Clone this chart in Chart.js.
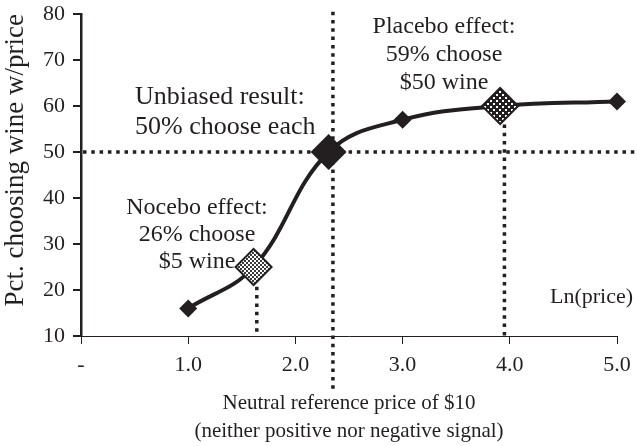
<!DOCTYPE html>
<html>
<head>
<meta charset="utf-8">
<script src="https://cdn.jsdelivr.net/npm/chart.js@4.4.1/dist/chart.umd.min.js"></script>
<style>
  html, body { margin: 0; padding: 0; background: #fff; }
  canvas { display: block; }
</style>
</head>
<body>
<canvas id="chart" width="637" height="446"></canvas>
<script>
// curve data: ln(price) vs pct choosing the wine
const xValues = [1.0, 1.61, 2.31, 3.0, 3.91, 5.0];
const yValues = [16, 25, 50, 57, 60, 61];

const xTickValues = [0, 1, 2, 3, 4, 5];
const xTickLabels = ['-', '1.0', '2.0', '3.0', '4.0', '5.0'];
const yTickLabels = ['10', '20', '30', '40', '50', '60', '70', '80'];

// dotted reference lines (data units)
const hLineY = 50;
const vLinesX = [1.64, 2.35, 3.95];
const vLinesTop = [20.7, 80.5, 56];

const SERIF = '"Liberation Serif", "Times New Roman", serif';
const INK = '#231f20';

function makePattern(bg, fg, size, dot, spots) {
    const c = document.createElement('canvas');
    c.width = size;
    c.height = size;
    const g = c.getContext('2d');
    g.fillStyle = bg;
    g.fillRect(0, 0, size, size);
    g.fillStyle = fg;
    spots.forEach(p => g.fillRect(p[0], p[1], dot, dot));
    return g.createPattern(c, 'repeat');
}

const noceboFill = makePattern('#ffffff', '#3a3a3a', 4, 2, [[0, 0], [2, 2]]);
const placeboFill = makePattern('#231f20', '#ffffff', 6, 2, [[1, 1], [4, 4]]);

// dotted lines under the markers
const refLinesPlugin = {
    id: 'refLines',
    beforeDatasetsDraw(chart) {
        const { ctx, chartArea, scales } = chart;
        ctx.save();
        ctx.strokeStyle = INK;
        ctx.lineWidth = 3.5;
        ctx.setLineDash([3.5, 4.8]);

        const y50 = scales.y.getPixelForValue(hLineY);
        ctx.beginPath();
        ctx.moveTo(chartArea.left + 2, y50);
        ctx.lineTo(chart.width, y50);
        ctx.stroke();

        vLinesX.forEach((xv, i) => {
            const px = scales.x.getPixelForValue(xv);
            const top = scales.y.getPixelForValue(vLinesTop[i]);
            // the middle line runs down into the axis title
            const bottom = i === 1 ? chartArea.bottom + 54 : chartArea.bottom;
            ctx.beginPath();
            ctx.moveTo(px, top);
            ctx.lineTo(px, bottom);
            ctx.stroke();
        });
        ctx.restore();
    }
};

// text notes on the plot
const notes = [
    { lines: ['Unbiased result:', '50% choose each'], x: 135, y: 97, gap: 30, size: 26, align: 'left' },
    { lines: ['Placebo effect:', '59% choose', '$50 wine'], x: 444, y: 27, gap: 28, size: 24, align: 'center' },
    { lines: ['Nocebo effect:', '26% choose', '$5 wine'], x: 197, y: 208, gap: 27, size: 24, align: 'center' },
    { lines: ['Ln(price)'], x: 633, y: 297, gap: 0, size: 22, align: 'right' }
];

const notesPlugin = {
    id: 'notes',
    afterDraw(chart) {
        const ctx = chart.ctx;
        ctx.save();
        ctx.fillStyle = INK;
        ctx.textBaseline = 'middle';
        notes.forEach(n => {
            ctx.font = n.size + 'px ' + SERIF;
            ctx.textAlign = n.align;
            n.lines.forEach((t, i) => ctx.fillText(t, n.x, n.y + i * n.gap));
        });
        ctx.restore();
    }
};

const ctx = document.getElementById('chart').getContext('2d');

new Chart(ctx, {
    type: 'scatter',
    data: {
        datasets: [{
            data: xValues.map((x, i) => ({ x: x, y: yValues[i] })),
            showLine: true,
            clip: false,
            borderColor: INK,
            borderWidth: 4,
            tension: 0.4,
            pointStyle: 'rectRot',
            pointRadius: [9, 18, 18, 9, 18, 9],
            pointBackgroundColor: [INK, noceboFill, INK, INK, placeboFill, INK],
            pointBorderColor: INK,
            pointBorderWidth: [0, 2, 0, 0, 2, 0]
        }]
    },
    options: {
        responsive: false,
        animation: false,
        layout: { autoPadding: false, padding: { top: 14, right: 20, left: 0, bottom: 0 } },
        plugins: {
            legend: { display: false },
            tooltip: { enabled: false }
        },
        scales: {
            x: {
                type: 'linear',
                min: 0,
                max: 5,
                afterBuildTicks: scale => { scale.ticks = xTickValues.map(v => ({ value: v })); },
                afterFit: scale => {
                    scale.height = 110;
                    scale.paddingLeft = 0;
                    scale.paddingRight = 0;
                },
                ticks: {
                    callback: (v, i) => xTickLabels[i],
                    font: { family: SERIF, size: 22 },
                    color: INK,
                    padding: 8
                },
                grid: { drawOnChartArea: false, tickLength: 8, color: INK, lineWidth: 1 },
                border: { color: INK, width: 1 },
                title: {
                    display: true,
                    text: ['Neutral reference price of $10', '(neither positive nor negative signal)'],
                    font: { family: SERIF, size: 21, lineHeight: 1.33 },
                    color: INK,
                    padding: { top: 0, bottom: 1 }
                }
            },
            y: {
                min: 10,
                max: 80,
                afterFit: scale => {
                    scale.width = 81;
                    scale.paddingTop = 0;
                    scale.paddingBottom = 0;
                },
                ticks: {
                    stepSize: 10,
                    callback: (v, i) => yTickLabels[i],
                    font: { family: SERIF, size: 22 },
                    color: INK,
                    padding: 8
                },
                grid: { drawOnChartArea: false, tickLength: 8, color: INK, lineWidth: 2 },
                border: { color: INK, width: 2.5 },
                title: {
                    display: true,
                    text: 'Pct. choosing wine w/price',
                    align: 'end',
                    font: { family: SERIF, size: 27 },
                    color: INK,
                    padding: { top: 0, bottom: 0 }
                }
            }
        }
    },
    plugins: [refLinesPlugin, notesPlugin]
});
</script>
</body>
</html>
